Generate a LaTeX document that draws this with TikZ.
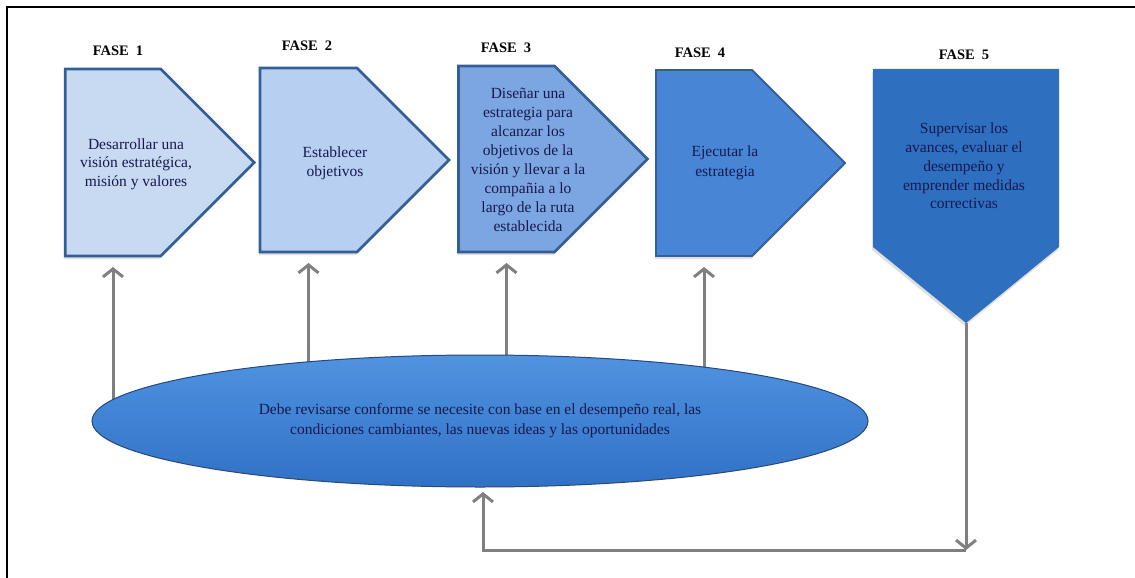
\documentclass[tikz,border=0pt]{standalone}
\usepackage{fontspec}
\setmainfont{Liberation Serif}
\usetikzlibrary{shapes.symbols,shapes.geometric,arrows.meta,backgrounds,shadows}

\definecolor{phaseA}{RGB}{200,218,242}
\definecolor{phaseB}{RGB}{183,207,240}
\definecolor{phaseC}{RGB}{124,166,226}
\definecolor{phaseD}{RGB}{72,134,213}
\definecolor{phaseE}{RGB}{46,111,192}
\definecolor{edgeblue}{RGB}{52,94,152}
\definecolor{ovaltop}{RGB}{80,147,224}
\definecolor{ovalbot}{RGB}{48,113,198}
\definecolor{ovaledge}{RGB}{40,72,120}
\definecolor{navytext}{RGB}{22,24,78}
\definecolor{linkgray}{RGB}{128,128,128}

\tikzset{
  phasebox/.style={shape=signal, signal to=east, signal pointer angle=90,
    inner sep=0pt, outer sep=0pt, minimum width=189pt, minimum height=187pt,
    draw=edgeblue, line width=2.8pt, line join=miter,
    drop shadow={shadow xshift=-1pt, shadow yshift=-3pt, opacity=.25}},
  phasetext/.style={align=center, inner sep=0pt, text=navytext,
    font=\fontsize{15.5}{18.7}\selectfont},
  phasetitle/.style={inner sep=0pt, font=\fontsize{14.5}{16}\selectfont\bfseries},
  feedback/.style={draw=linkgray, line width=3pt,
    -{Straight Barb[length=8pt,width=20pt]}},
}

\begin{document}
\begin{tikzpicture}[x=1pt,y=-1pt]
\useasboundingbox (0,0) rectangle (1135,578);

% page frame (left and top rules)
\draw[line width=2pt] (7,578) -- (7,7) -- (1135,7);

% five phases
\node[phasebox, fill=phaseA] (f1) at (113,162.5) {};
\node[phasebox, fill=phaseB, minimum height=184pt] (f2) at (308.5,160) {};
\node[phasebox, fill=phaseC, minimum height=186pt] (f3) at (506.5,159) {};
\node[phasebox, fill=phaseD, minimum height=186pt, line width=1.8pt] (f4) at (704,163) {};
\node[phasebox, fill=phaseE, draw=none, signal to=south, signal pointer angle=101.5,
      minimum width=186pt, minimum height=178pt] (f5) at (966,158) {};

\node[phasetitle] (h1) at (118,51) {FASE\ \ 1};
\node[phasetitle] (h2) at (307,46) {FASE\ \ 2};
\node[phasetitle] (h3) at (506,48) {FASE\ \ 3};
\node[phasetitle] (h4) at (700,53) {FASE\ \ 4};
\node[phasetitle] (h5) at (964,55) {FASE\ \ 5};

\node[phasetext] (t1) at (136,164) {Desarrollar una\\visión estratégica,\\misión y valores};
\node[phasetext] (t2) at (335,163) {Establecer\\objetivos};
\node[phasetext, font=\fontsize{15.5}{19.1}\selectfont] (t3) at (528,160)
  {Diseñar una\\estrategia para\\alcanzar los\\objetivos de la\\visión y llevar a la\\compañia a lo\\largo de la ruta\\establecida};
\node[phasetext, font=\fontsize{15.5}{20}\selectfont] (t4) at (725,163) {Ejecutar la\\estrategia};
\node[phasetext] (t5) at (964,166)
  {Supervisar los\\avances, evaluar el\\desempeño y\\emprender medidas\\correctivas};

% revision oval
\node[ellipse, minimum width=776pt, minimum height=132pt, inner sep=0pt, outer sep=0pt,
      draw=ovaledge, line width=1pt, top color=ovaltop, bottom color=ovalbot,
      align=center, text=navytext, font=\fontsize{15.5}{20}\selectfont] (ell) at (480,421)
  {Debe revisarse conforme se necesite con base en el desempeño real, las\\
   condiciones cambiantes, las nuevas ideas y las oportunidades};

% feedback arrows, tucked behind the oval
\coordinate (base) at (0,550);
\coordinate (corner) at (f5.south |- base);
\begin{scope}[on background layer]
  \draw[feedback] (ell.center -| f1.south) -- ([yshift=-11pt]f1.south);
  \draw[feedback] (ell.center -| f2.south) -- ([yshift=-11pt]f2.south);
  \draw[feedback] (ell.center -| f3.south) -- ([yshift=-11pt]f3.south);
  \draw[feedback] (ell.center -| f4.south) -- ([yshift=-11pt]f4.south);
  \draw[feedback] (f5.south) -- (corner);
  \draw[feedback] (corner) -| ([xshift=3pt,yshift=-5pt]ell.south);
\end{scope}
\end{tikzpicture}
\end{document}
